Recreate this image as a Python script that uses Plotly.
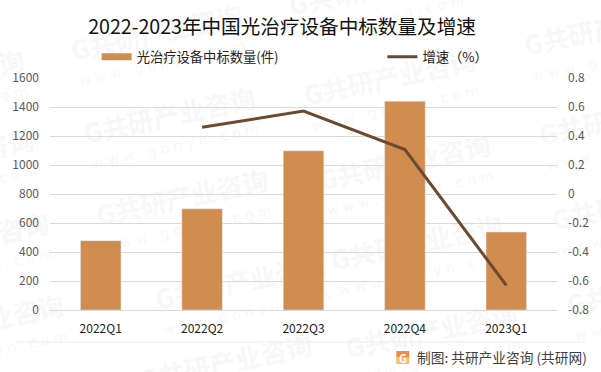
import plotly.graph_objects as go

categories = ["2022Q1", "2022Q2", "2022Q3", "2022Q4", "2023Q1"]
counts = [478, 698, 1098, 1440, 538]
growth = [None, 0.46, 0.572, 0.307, -0.63]
left_ticks = [0, 200, 400, 600, 800, 1000, 1200, 1400, 1600]
right_ticks = [-0.8, -0.6, -0.4, -0.2, 0, 0.2, 0.4, 0.6, 0.8]
title_text = "2022-2023年中国光治疗设备中标数量及增速"
bar_name = "光治疗设备中标数量(件)"
line_name = "增速（%）"
source_text = "制图: 共研产业咨询 (共研网)"
mark_cn = "共研产业咨询"
mark_en = "w w w . g o n y n . c o m"
# watermark centres in page pixels
mark_centres = [(-65, 80), (-55, 160), (-40, 243), (-25, 325), (168, 118), (181, 200),
                (240, 284), (225, 365), (155, 35), (390, 80), (417, 245), (432, 333),
                (375, -10), (405, 165), (612, 30), (627, 120), (640, 205), (655, 290)]

W, H = 601, 372
L, R, T, B = 47, 558, 78, 310
FONT = "Noto Sans CJK SC, Noto Sans, sans-serif"
BAR = "#D18C4F"
LINE = "#6B4A2F"

fig = go.Figure()
fig.add_bar(x=categories, y=counts, name=bar_name, marker_color=BAR, width=0.4, yaxis="y", showlegend=False)
fig.add_scatter(x=categories, y=growth, name=line_name, mode="lines", yaxis="y2", legend="legend2",
                line=dict(color=LINE, width=3), connectgaps=False)
# legend entry for the bars, drawn as the flat swatch of the reference
fig.add_scatter(x=categories[:1], y=[None], name=bar_name, mode="lines", yaxis="y", legend="legend",
                line=dict(color=BAR, width=7))


def px(x):
    return (x - L) / (R - L)


def py(y):
    return (B - y) / (B - T)


shapes = []
for cx, cy in mark_centres:
    shapes.append(dict(type="rect", xref="paper", yref="paper", layer="below",
                       x0=px(cx - 1), x1=px(cx + 1), y0=py(cy + 1), y1=py(cy - 1),
                       line=dict(width=0), fillcolor="rgba(0,0,0,0)",
                       label=dict(text="<b>G" + mark_cn + "</b>", textangle=-12, textposition="middle center",
                                  font=dict(family=FONT, size=26, color="#F7F7F7"))))
    shapes.append(dict(type="rect", xref="paper", yref="paper", layer="below",
                       x0=px(cx + 4), x1=px(cx + 6), y0=py(cy + 28), y1=py(cy + 26),
                       line=dict(width=0), fillcolor="rgba(0,0,0,0)",
                       label=dict(text=mark_en, textangle=-12, textposition="middle center",
                                  font=dict(family="DejaVu Sans", size=14, color="#F7F7F7"))))
# footer rule and logo
shapes.append(dict(type="line", xref="paper", yref="paper", layer="below",
                   x0=px(14), x1=px(586), y0=py(342), y1=py(342), line=dict(color="#EBEBEB", width=1)))
shapes.append(dict(type="rect", xref="paper", yref="paper",
                   x0=px(396), x1=px(409), y0=py(357), y1=py(351), line=dict(width=0), fillcolor="#F08A4B"))
shapes.append(dict(type="rect", xref="paper", yref="paper",
                   x0=px(396), x1=px(409), y0=py(364), y1=py(357), line=dict(width=0), fillcolor="#F7BE6D"))

annotations = [
    dict(text="<b>G</b>", x=px(402.5), y=py(357.5), xref="paper", yref="paper", showarrow=False,
         xanchor="center", yanchor="middle", font=dict(family=FONT, size=11, color="white")),
    dict(text=source_text, x=px(415), y=py(357), xref="paper", yref="paper", xanchor="left", yanchor="middle",
         showarrow=False, font=dict(family=FONT, size=13.7, color="#404040")),
]

fig.update_layout(
    width=W, height=H, autosize=False,
    margin=dict(l=L, r=W - R, t=T, b=H - B),
    paper_bgcolor="white", plot_bgcolor="rgba(0,0,0,0)",
    font=dict(family=FONT, size=12, color="#595959"),
    title=dict(text=title_text, x=282 / W, xanchor="center", y=1 - 27 / H, yanchor="middle",
               font=dict(family=FONT, size=19.6, color="#111111")),
    showlegend=True,
    legend=dict(x=px(94), xanchor="left", y=py(57), yanchor="middle", font=dict(size=13.3, color="#222222"),
                bgcolor="rgba(0,0,0,0)"),
    legend2=dict(x=px(382), xanchor="left", y=py(57), yanchor="middle", font=dict(size=13.3, color="#222222"),
                 bgcolor="rgba(0,0,0,0)"),
    xaxis=dict(type="category", categoryorder="array", categoryarray=categories, showgrid=False, showline=True,
               linecolor="#D9D9D9", ticks="", ticklabelstandoff=8,
               tickfont=dict(color="#222222", size=12), range=[-0.5, 4.5]),
    yaxis=dict(range=[0, 1600], tickvals=left_ticks, showgrid=True, gridcolor="#D9D9D9", gridwidth=1,
               zeroline=False, showline=False, ticks="", ticklabelstandoff=10,
               tickfont=dict(color="#595959", size=12)),
    yaxis2=dict(range=[-0.8, 0.8], tickvals=right_ticks, overlaying="y", side="right", showgrid=False,
                zeroline=False, showline=False, ticks="", ticklabelstandoff=10,
                tickfont=dict(color="#595959", size=12),
                ticktext=[str(v) for v in right_ticks]),
    shapes=shapes, annotations=annotations,
)

fig.write_html("out.html", config=dict(displayModeBar=False),
               post_script="document.body.style.margin='0';document.body.style.overflow='hidden';")
